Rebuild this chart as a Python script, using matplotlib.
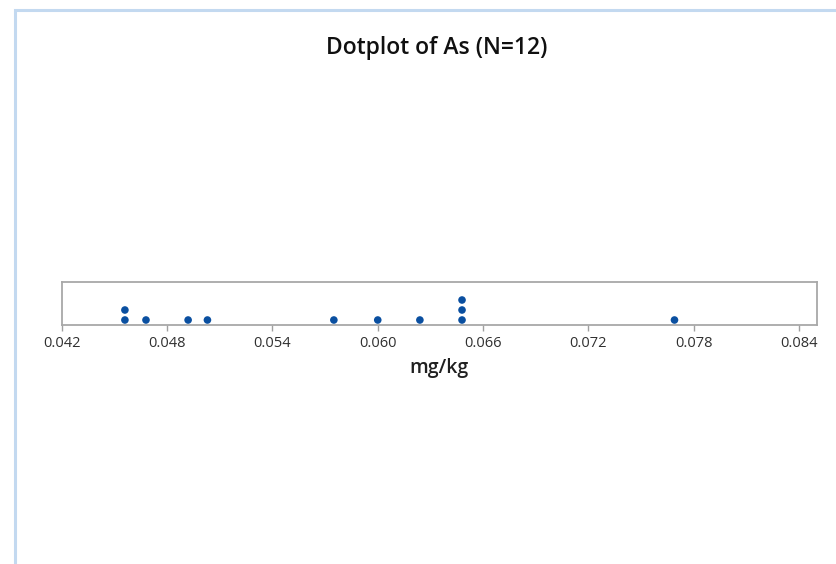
import numpy as np
import matplotlib.pyplot as plt
from matplotlib.patches import Rectangle

# As values [mg/kg] (binned as in the dotplot), one entry per observation
as_values = [0.0456, 0.0456, 0.0468, 0.0492, 0.0503, 0.0575,
             0.0600, 0.0624, 0.0648, 0.0648, 0.0648, 0.0769]
tick_values = [0.042, 0.048, 0.054, 0.060, 0.066, 0.072, 0.078, 0.084]
tick_labels = ['0.042', '0.048', '0.054', '0.060', '0.066', '0.072', '0.078', '0.084']

plt.rcParams['font.family'] = ['Open Sans', 'DejaVu Sans']

# stack equal values on top of each other
x = []
y = []
counts = {}
for v in as_values:
    counts[v] = counts.get(v, 0) + 1
    x.append(v)
    y.append(counts[v] - 0.5)

fig = plt.figure(figsize=(8.37, 5.64), dpi=100)

# light blue outer frame of the screenshot
frame = Rectangle((15.5 / 837, -0.1), 1.2, (564 - 10) / 564 + 0.1,
                  transform=fig.transFigure, fill=False,
                  edgecolor='#c3d9f0', linewidth=2.2, clip_on=False)
fig.patches.append(frame)

ax = fig.add_axes([61.7 / 837, 239 / 564, (816.7 - 61.7) / 837, 42.7 / 564])
ax.scatter(x, y, s=30, color='#0a4fa0', edgecolors='none', zorder=3)

ax.set_xlim(0.042, 0.085)
ax.set_ylim(0, 4.27)
ax.set_yticks([])
ax.set_xticks(tick_values)
ax.set_xticklabels(tick_labels, fontsize=10.5, color='#303030')
ax.tick_params(axis='x', direction='out', length=4, width=1, color='#a0a0a0', pad=4)
for s in ax.spines.values():
    s.set_color('#a8a8a8')
    s.set_linewidth(1.3)

ax.set_xlabel('mg/kg', fontsize=14, fontweight='semibold', color='#202020', labelpad=5)
fig.text(437 / 837, 1 - 48 / 564, 'Dotplot of As (N=12)', ha='center', va='center',
         fontsize=16.5, fontweight='semibold', color='#101010')

fig.savefig('out.png', dpi=100)
